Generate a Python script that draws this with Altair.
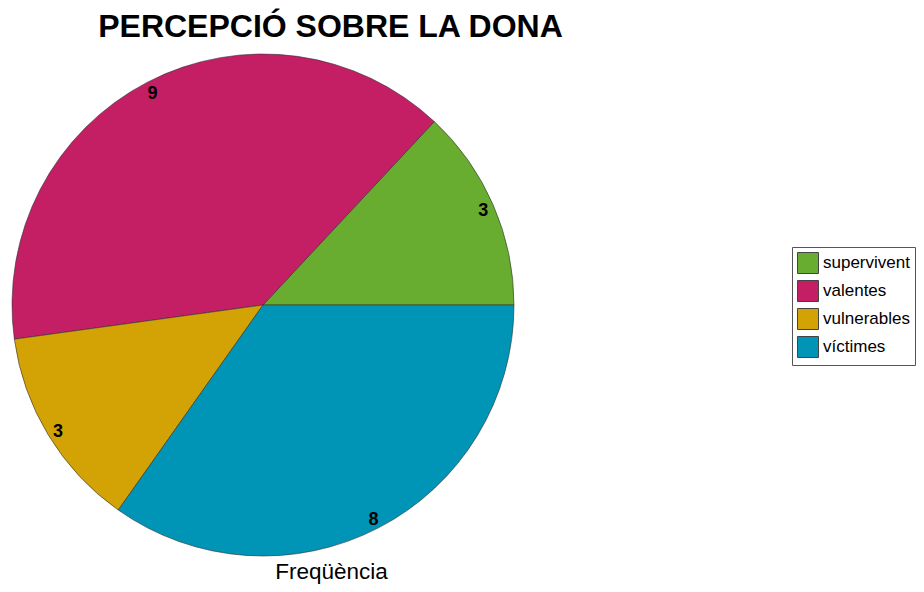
import altair as alt
import pandas as pd
import math

categories = ["supervivent", "valentes", "vulnerables", "víctimes"]
values = [3, 9, 3, 8]
colors = ["#68AD30", "#C41E65", "#D3A305", "#0094B6"]
# drawing order clockwise so the pie runs counterclockwise from 3 o'clock
draw_order = [4, 3, 2, 1]
chart_title = "PERCEPCIÓ SOBRE LA DONA"
axis_label = "Freqüència"

df = pd.DataFrame({"cat": categories, "val": values, "ord": draw_order})

theta_scale = alt.Scale(range=[math.pi / 2, math.pi / 2 + 2 * math.pi])

base = alt.Chart(df).encode(
    theta=alt.Theta("val:Q", stack=True, scale=theta_scale),
    order=alt.Order("ord:Q", sort="ascending"),
)

arcs = base.mark_arc(outerRadius=251, stroke="#333333", strokeWidth=0.6).encode(
    color=alt.Color(
        "cat:N",
        scale=alt.Scale(domain=categories, range=colors),
        legend=alt.Legend(
            title=None,
            orient="none",
            legendX=780,
            legendY=193,
            symbolType="square",
            symbolSize=441,
            symbolStrokeColor="#444444",
            symbolStrokeWidth=1,
            labelFont="Liberation Sans",
            labelFontSize=17,
            labelColor="#000000",
            strokeColor="#555555",
            padding=5,
            rowPadding=2,
            labelOffset=4,
        ),
    )
)

labels = base.mark_text(
    radius=240, font="Liberation Sans", fontSize=18, fontWeight="bold", color="#000000", dy=2
).encode(text="val:Q")

axis_title = alt.Chart(pd.DataFrame({"t": [axis_label]})).mark_text(
    font="Liberation Sans", fontSize=22.5, color="#000000", baseline="alphabetic"
).encode(text="t:N", x=alt.value(319.5), y=alt.value(525))

main_title = alt.Chart(pd.DataFrame({"t": [chart_title]})).mark_text(
    font="Liberation Sans", fontSize=32, fontWeight="bold", color="#000000", baseline="alphabetic"
).encode(text="t:N", x=alt.value(318.5), y=alt.value(-17))

chart = (
    alt.layer(arcs, labels, axis_title, main_title)
    .properties(
        width=502,
        height=502,
        padding={"left": 4, "top": 46, "right": 402, "bottom": 28},
        autosize=alt.AutoSizeParams(type="none"),
    )
    .configure_view(stroke=None)
)

chart.save("out.html", embed_options={"renderer": "svg", "actions": False})
